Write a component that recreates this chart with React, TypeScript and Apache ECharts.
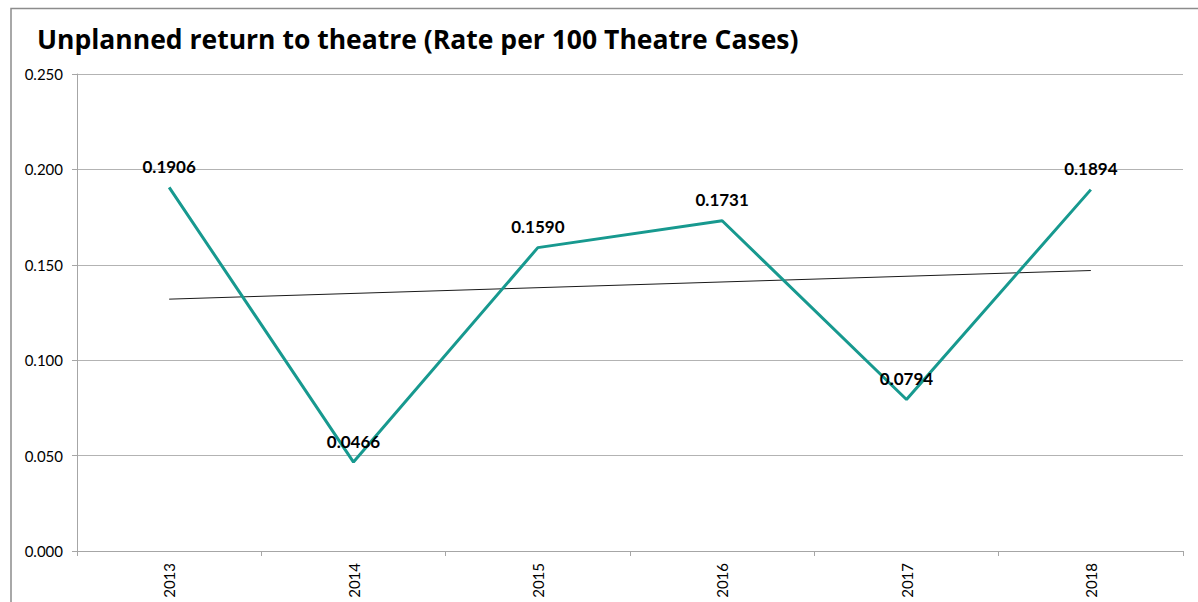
import React, { useEffect, useRef } from "react";
import * as echarts from "echarts";

const titleText = "Unplanned return to theatre (Rate per 100 Theatre Cases)";
const years = ["2013", "2014", "2015", "2016", "2017", "2018"];
const rates = [0.1906, 0.0466, 0.159, 0.1731, 0.0794, 0.1894];
// linear trendline endpoints
const trend = [0.132, null, null, null, null, 0.147];

export default function App() {
  const ref = useRef<HTMLDivElement>(null);
  useEffect(() => {
    if (!ref.current) return;
    const chart = echarts.init(ref.current, null, { renderer: "svg" });
    chart.setOption({
      animation: false,
      backgroundColor: "#ffffff",
      title: {
        text: titleText,
        left: 32,
        top: 20,
        textStyle: { fontFamily: "Open Sans", fontWeight: "bold", fontSize: 26.5, color: "#000" },
      },
      graphic: [
        {
          type: "polyline",
          shape: { points: [[11, 602], [11, 8.5], [1198, 8.5]] },
          style: { stroke: "#8c8c8c", lineWidth: 1.5, fill: null },
        },
      ],
      grid: { left: 77, right: 15, top: 74, bottom: 51, containLabel: false },
      xAxis: {
        type: "category",
        data: years,
        boundaryGap: true,
        axisLine: { lineStyle: { color: "#a6a6a6", width: 1 } },
        axisTick: { show: true, length: 5, lineStyle: { color: "#a6a6a6" } },
        axisLabel: { rotate: 90, margin: 12, fontFamily: "Lato", fontSize: 15, color: "#000" },
      },
      yAxis: {
        type: "value",
        min: 0,
        max: 0.25,
        interval: 0.05,
        axisLine: { show: true, lineStyle: { color: "#a6a6a6", width: 1 } },
        axisTick: { show: true, length: 5, lineStyle: { color: "#a6a6a6" } },
        axisLabel: {
          margin: 14,
          fontFamily: "Lato",
          fontSize: 15,
          color: "#000",
          formatter: (v: number) => v.toFixed(3),
        },
        splitLine: { lineStyle: { color: "#b3b3b3", width: 1 } },
      },
      series: [
        {
          type: "line",
          data: rates,
          symbol: "circle",
          symbolSize: 1,
          showSymbol: true,
          itemStyle: { color: "transparent", borderWidth: 0 },
          lineStyle: { color: "#17998f", width: 3 },
          label: {
            show: true,
            position: "top",
            distance: 12,
            fontFamily: "Lato",
            fontWeight: "bold",
            fontSize: 17,
            color: "#000",
            formatter: (p: any) => Number(p.value).toFixed(4),
          },
          z: 3,
        },
        {
          type: "line",
          data: trend,
          connectNulls: true,
          symbol: "none",
          lineStyle: { color: "#1a1a1a", width: 1 },
          z: 2,
        },
      ],
    });
    return () => chart.dispose();
  }, []);
  return (
    <div
      ref={ref}
      style={{ position: "absolute", left: 0, top: 0, width: 1198, height: 602 }}
    />
  );
}
